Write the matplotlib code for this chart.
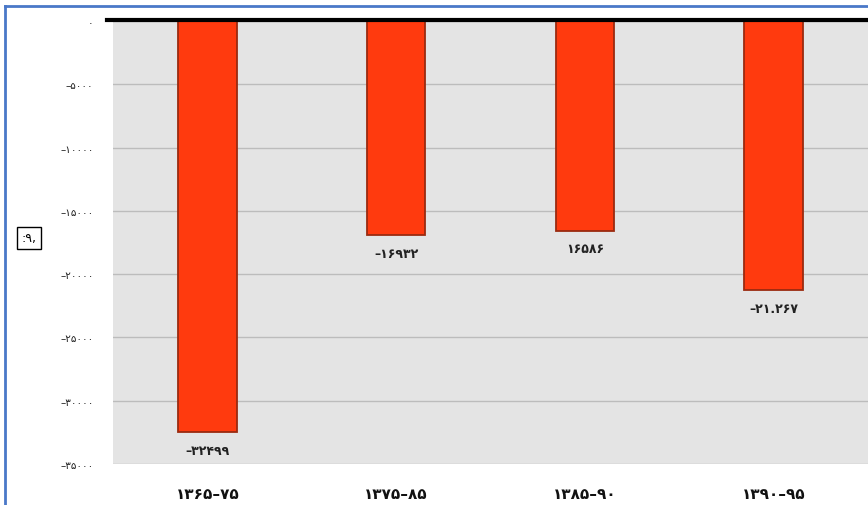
import matplotlib.pyplot as plt
from matplotlib.lines import Line2D

plt.rcParams['font.family'] = ['DejaVu Sans', 'Noto Sans']

# دوره‌ها و مقادیر
periods = ["۱۳۶۵–۷۵", "۱۳۷۵–۸۵", "۱۳۸۵–۹۰", "۱۳۹۰–۹۵"]
values = [-32499, -16932, -16586, -21267]
value_labels = ["–۳۲۴۹۹", "–۱۶۹۳۲", "۱۶۵۸۶", "–۲۱.۲۶۷"]
y_ticks = [0, -5000, -10000, -15000, -20000, -25000, -30000, -35000]
y_tick_labels = ["۰", "–۵۰۰۰", "–۱۰۰۰۰", "–۱۵۰۰۰", "–۲۰۰۰۰", "–۲۵۰۰۰", "–۳۰۰۰۰", "–۳۵۰۰۰"]
y_title = ":۹,"

fig = plt.figure(figsize=(8.68, 5.06), dpi=100)
ax = fig.add_axes([113/868, 1-465/506, 1-113/868, (465-22)/506])
ax.set_facecolor("#e4e4e4")

x = range(len(periods))
ax.bar(x, values, width=0.31, color="#ff3a0e", edgecolor="#9a2a10", linewidth=1.3, zorder=3)

for xi, v, lab in zip(x, values, value_labels):
    ax.annotate(lab, (xi, v), xytext=(0, -13), textcoords="offset points",
                ha="center", va="center", fontsize=9, fontweight="bold", color="#222222")

ax.set_xlim(-0.5, 3.5)
ax.set_ylim(-35000, 0)
ax.set_yticks(y_ticks)
ax.set_yticklabels(y_tick_labels, fontsize=7.5, color="#222222")
ax.set_xticks(list(x))
ax.set_xticklabels(periods, fontsize=11, color="#111111", fontweight="bold")
ax.tick_params(axis="y", length=0, pad=14)
ax.tick_params(axis="x", length=0, pad=16)
ax.grid(axis="y", color="#bcbcbc", linewidth=1, zorder=0)

for s in ["left", "right", "bottom"]:
    ax.spines[s].set_visible(False)
ax.spines["top"].set_visible(False)
# خط صفر ضخیم بالای نمودار
fig.add_artist(Line2D([107/868, 1], [1-21/506, 1-21/506], color="black", linewidth=3, zorder=5))

# تیتر محور
fig.text(29/868, 1-239/506, y_title, ha="center", va="center", fontsize=9,
         bbox=dict(boxstyle="square,pad=0.35", facecolor="white", edgecolor="black", linewidth=1))

# قاب آبی
fig.add_artist(Line2D([5/868, 5/868], [0, 1-7/506], color="#4a78c8", linewidth=2))
fig.add_artist(Line2D([5/868, 1], [1-7/506, 1-7/506], color="#4a78c8", linewidth=2))

fig.savefig("out.png", dpi=100)
